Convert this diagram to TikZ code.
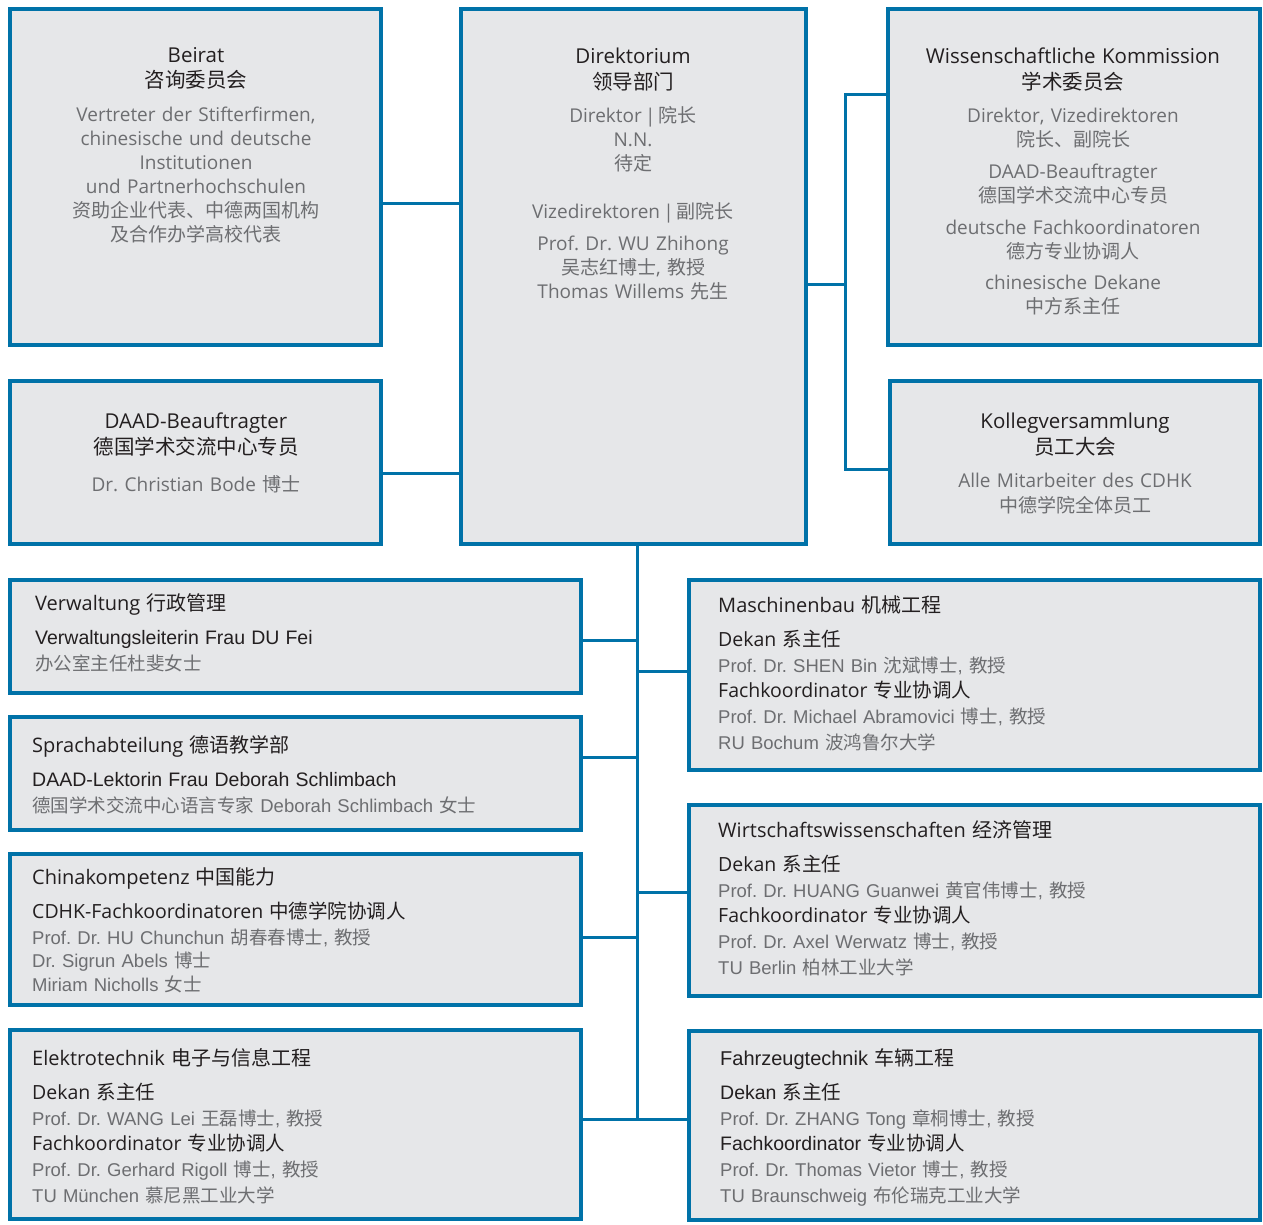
\documentclass[tikz,border=0pt]{standalone}
\usepackage{fontspec}
\setmainfont{Open Sans}
\newfontfamily\cjk{Noto Sans CJK SC}
\newfontfamily\arialf{Liberation Sans}
\newcommand\zh[1]{{\cjk #1}}
\definecolor{cdblue}{RGB}{0,114,168}
\definecolor{cdfill}{RGB}{230,231,233}
\definecolor{cddark}{RGB}{35,31,32}
\definecolor{cdgray}{RGB}{109,110,113}
\newcommand\ttl[1]{{\color{cddark}\fontsize{20.5}{24}\selectfont #1}}
\newcommand\btl[1]{{\color{cddark}\rmfamily\fontsize{20}{25.8}\selectfont #1}}
\newcommand\btla[1]{{\color{cddark}\fontsize{20}{25.8}\selectfont #1}}
\newcommand\dk[1]{{\color{cddark}\rmfamily\fontsize{19.5}{25.8}\selectfont #1}}
\newcommand\dka[1]{{\color{cddark}\fontsize{19.5}{25.8}\selectfont #1}}
\lineskiplimit=-50pt
\frenchspacing
\tikzset{
  box/.style={draw=cdblue, line width=3.6pt, fill=cdfill, inner sep=0pt, outer sep=0pt},
  conn/.style={draw=cdblue, line width=3pt},
  toptext/.style={anchor=base, text width=350pt, align=center, inner sep=0pt, text=cdgray,
    font=\fontsize{19}{24}\selectfont\frenchspacing},
  bottext/.style={anchor=base west, text width=540pt, align=left, inner sep=0pt, text=cdgray,
    font=\arialf\fontsize{18.5}{25.8}\selectfont\frenchspacing},
}
\begin{document}
\begin{tikzpicture}[x=1pt,y=-1pt]
\useasboundingbox (0,0) rectangle (1263,1225);
% boxes
\node[box, minimum width=371pt, minimum height=336pt] (beirat) at (195.5,177) {};
\node[box, minimum width=371pt, minimum height=163pt] (daad) at (195.5,462.5) {};
\node[box, minimum width=345pt, minimum height=535pt] (direk) at (633.5,276.5) {};
\node[box, minimum width=372pt, minimum height=336pt] (wiss) at (1074,177) {};
\node[box, minimum width=370pt, minimum height=163pt] (kolleg) at (1075,462.5) {};
\node[box, minimum width=571pt, minimum height=113pt] (verw) at (295.5,636.5) {};
\node[box, minimum width=571pt, minimum height=113pt] (sprach) at (295.5,773.5) {};
\node[box, minimum width=571pt, minimum height=151pt] (china) at (295.5,929.5) {};
\node[box, minimum width=571pt, minimum height=189pt] (elektro) at (295.5,1124.5) {};
\node[box, minimum width=571pt, minimum height=190pt] (masch) at (974.5,675) {};
\node[box, minimum width=571pt, minimum height=191pt] (wirt) at (974.5,900.5) {};
\node[box, minimum width=571pt, minimum height=189pt] (fahr) at (974.5,1125.5) {};
% connector coordinates
\coordinate (yA) at (0,204);
\coordinate (yB) at (0,473);
\coordinate (yC) at (0,284);
\coordinate (yWiss) at (0,95);
\coordinate (yKol) at (0,469);
\coordinate (rx) at (845,0);
\coordinate (bx) at (637,0);
\coordinate (yVerw) at (0,640);
\coordinate (ySpr) at (0,757);
\coordinate (yChi) at (0,937);
\coordinate (yEl) at (0,1119);
\coordinate (yMa) at (0,671);
\coordinate (yWi) at (0,892);
\coordinate (yFa) at (0,1119);
% connectors
\draw[conn] (beirat.east |- yA) -- (direk.west |- yA);
\draw[conn] (daad.east |- yB) -- (direk.west |- yB);
\draw[conn] (direk.east |- yC) -- (rx |- yC);
\draw[conn] (wiss.west |- yWiss) -- (rx |- yWiss) -- (rx |- yKol) -- (kolleg.west |- yKol);
\draw[conn] (direk.south -| bx) -- (bx |- yEl);
\draw[conn] (verw.east |- yVerw) -- (bx |- yVerw);
\draw[conn] (sprach.east |- ySpr) -- (bx |- ySpr);
\draw[conn] (china.east |- yChi) -- (bx |- yChi);
\draw[conn] (elektro.east |- yEl) -- (bx |- yEl);
\draw[conn] (masch.west |- yMa) -- (bx |- yMa);
\draw[conn] (wirt.west |- yWi) -- (bx |- yWi);
\draw[conn] (fahr.west |- yFa) -- (bx |- yFa);
% top texts
\node[toptext] (beirat-t) at (196,62.5) {\ttl{Beirat}\\[1pt]
\ttl{\zh{咨询委员会}}\\[10pt]
Vertreter der Stifterfirmen,\\
chinesische und deutsche\\
Institutionen\\
und Partnerhochschulen\\
\zh{资助企业代表、中德两国机构}\\
\zh{及合作办学高校代表}};
\node[toptext] (direk-t) at (633,64) {\ttl{Direktorium}\\[2pt]
\ttl{\zh{领导部门}}\\[9pt]
Direktor\,|\,\zh{院长}\\
N.N.\\
\zh{待定}\\[24pt]
Vizedirektoren\,|\,\zh{副院长}\\[8pt]
Prof. Dr. WU Zhihong\\
\zh{吴志红博士}, \zh{教授}\\
Thomas Willems \zh{先生}};
\node[toptext] (wiss-t) at (1073,64) {\ttl{Wissenschaftliche Kommission}\\[2pt]
\ttl{\zh{学术委员会}}\\[9pt]
Direktor, Vizedirektoren\\
\zh{院长、副院长}\\[8pt]
DAAD-Beauftragter\\
\zh{德国学术交流中心专员}\\[8pt]
deutsche Fachkoordinatoren\\
\zh{德方专业协调人}\\[7pt]
chinesische Dekane\\
\zh{中方系主任}};
\node[toptext] (daad-t) at (196,428) {\ttl{DAAD-Beauftragter}\\[2pt]
\ttl{\zh{德国学术交流中心专员}}\\[13pt]
Dr. Christian Bode \zh{博士}};
\node[toptext] (kolleg-t) at (1075,428) {\ttl{Kollegversammlung}\\[2pt]
\ttl{\zh{员工大会}}\\[9pt]
Alle Mitarbeiter des CDHK\\[1pt]
\zh{中德学院全体员工}};
% bottom texts
\node[bottext] (verw-t) at (35,610) {\btl{Verwaltung \zh{行政管理}}\\[8.5pt]
\dka{Verwaltungsleiterin Frau DU Fei}\\
\zh{办公室主任杜斐女士}};
\node[bottext] (sprach-t) at (32,752) {\btl{Sprachabteilung \zh{德语教学部}}\\[8.5pt]
\dka{DAAD-Lektorin Frau Deborah Schlimbach}\\
\zh{德国学术交流中心语言专家} Deborah Schlimbach \zh{女士}};
\node[bottext] (china-t) at (32,884) {\btl{Chinakompetenz \zh{中国能力}}\\[8.5pt]
\dk{CDHK-Fachkoordinatoren \zh{中德学院协调人}}\\
Prof. Dr. HU Chunchun \zh{胡春春博士}, \zh{教授}\\[-2pt]
Dr. Sigrun Abels \zh{博士}\\[-2pt]
Miriam Nicholls \zh{女士}};
\node[bottext] (elektro-t) at (32,1065) {\btl{Elektrotechnik \zh{电子与信息工程}}\\[8.5pt]
\dk{Dekan \zh{系主任}}\\
Prof. Dr. WANG Lei \zh{王磊博士}, \zh{教授}\\
\dk{Fachkoordinator \zh{专业协调人}}\\
Prof. Dr. Gerhard Rigoll \zh{博士}, \zh{教授}\\
TU München \zh{慕尼黑工业大学}};
\node[bottext] (masch-t) at (718,612) {\btl{Maschinenbau \zh{机械工程}}\\[8.5pt]
\dk{Dekan \zh{系主任}}\\
Prof. Dr. SHEN Bin \zh{沈斌博士}, \zh{教授}\\
\dk{Fachkoordinator \zh{专业协调人}}\\
Prof. Dr. Michael Abramovici \zh{博士}, \zh{教授}\\
RU Bochum \zh{波鸿鲁尔大学}};
\node[bottext] (wirt-t) at (718,837) {\btl{Wirtschaftswissenschaften \zh{经济管理}}\\[8.5pt]
\dk{Dekan \zh{系主任}}\\
Prof. Dr. HUANG Guanwei \zh{黄官伟博士}, \zh{教授}\\
\dk{Fachkoordinator \zh{专业协调人}}\\
Prof. Dr. Axel Werwatz \zh{博士}, \zh{教授}\\
TU Berlin \zh{柏林工业大学}};
\node[bottext] (fahr-t) at (720,1065) {\btla{Fahrzeugtechnik \zh{车辆工程}}\\[8.5pt]
\dka{Dekan \zh{系主任}}\\
Prof. Dr. ZHANG Tong \zh{章桐博士}, \zh{教授}\\
\dka{Fachkoordinator \zh{专业协调人}}\\
Prof. Dr. Thomas Vietor \zh{博士}, \zh{教授}\\
TU Braunschweig \zh{布伦瑞克工业大学}};
\end{tikzpicture}
\end{document}
